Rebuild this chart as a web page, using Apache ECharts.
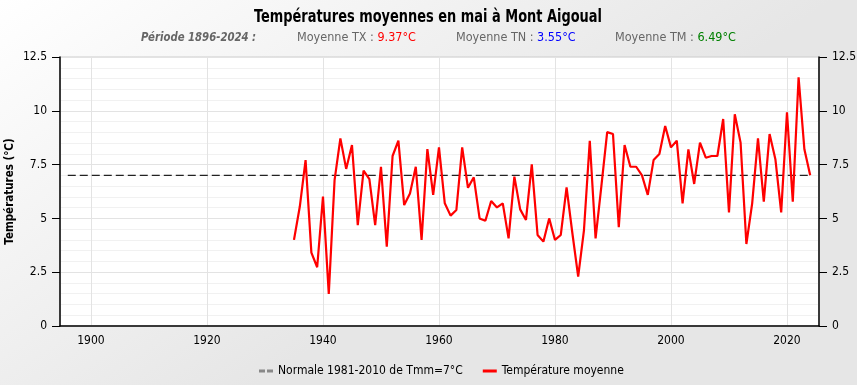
<!DOCTYPE html>
<html>
<head>
<meta charset="utf-8">
<script src="https://cdn.jsdelivr.net/npm/echarts@6/dist/echarts.min.js"></script>
<style>
html,body{margin:0;padding:0;}
#chart{width:857px;height:385px;}
</style>
</head>
<body>
<div id="chart"></div>
<script>
const years = [];
for (let y = 1935; y <= 2024; y++) years.push(y);
const tempMoyenne = [
  4.00, 5.54, 7.71, 3.41, 2.73, 6.01, 1.49, 6.78, 8.72, 7.30,
  8.41, 4.69, 7.22, 6.82, 4.69, 7.40, 3.69, 7.90, 8.61, 5.62,
  6.16, 7.40, 4.00, 8.22, 6.09, 8.30, 5.70, 5.13, 5.39, 8.30,
  6.42, 6.91, 5.00, 4.89, 5.81, 5.51, 5.70, 4.07, 6.94, 5.42,
  4.93, 7.51, 4.23, 3.92, 5.00, 4.00, 4.23, 6.44, 4.31, 2.29,
  4.46, 8.61, 4.07, 6.50, 9.01, 8.92, 4.59, 8.41, 7.40, 7.40,
  7.00, 6.09, 7.71, 7.99, 9.29, 8.30, 8.61, 5.70, 8.21, 6.60,
  8.52, 7.82, 7.90, 7.90, 9.62, 5.28, 9.84, 8.52, 3.81, 5.70,
  8.72, 5.78, 8.92, 7.75, 5.28, 9.93, 5.78, 11.56, 8.21, 7.00
];
const normaleYears = [1896, 2024];
const normaleValue = 7;
const yTicks = ['0', '2.5', '5', '7.5', '10', '12.5'];
const xTickYears = [1900, 1920, 1940, 1960, 1980, 2000, 2020];

const FONT = "'DejaVu Sans Condensed', 'Liberation Sans Narrow', 'Noto Sans', sans-serif";

const chart = echarts.init(document.getElementById('chart'), null, {renderer: 'canvas'});

const seriesTemp = years.map((y, i) => [y, tempMoyenne[i]]);
const seriesNorm = normaleYears.map(y => [y, normaleValue]);

const yAxisCommon = {
  type: 'value', min: 0, max: 12.5, interval: 2.5,
  axisLine: {show: true, lineStyle: {color: '#000', width: 1.5}},
  axisTick: {show: true, inside: false, length: 8, lineStyle: {color: '#000', width: 1}},
  axisLabel: {color: '#000', fontFamily: FONT, fontSize: 12, margin: 13},
  minorTick: {show: false, splitNumber: 5}
};

function sub(x, label, value, color) {
  return {
    type: 'text', x: x, y: 38,
    style: {
      text: '{a|' + label + '}{b|' + value + '}',
      verticalAlign: 'middle', align: 'left',
      rich: {
        a: {fontFamily: FONT, fontSize: 12.5, fill: '#666666'},
        b: {fontFamily: FONT, fontSize: 12.5, fill: color}
      }
    }
  };
}

const option = {
  animation: false,
  backgroundColor: {
    type: 'linear', x: 0, y: 0, x2: 0.3, y2: 1,
    colorStops: [{offset: 0, color: '#ffffff'}, {offset: 1, color: '#e6e6e6'}]
  },
  graphic: [
    {type: 'text', x: 428, y: 17, scaleX: 0.8,
     style: {text: 'Températures moyennes en mai à Mont Aigoual', align: 'center', verticalAlign: 'middle',
             fontFamily: FONT, fontSize: 18, fontWeight: 'bold', fill: '#000'}},
    {type: 'text', x: 141, y: 38, scaleX: 0.9,
     style: {text: 'Période 1896-2024 :', align: 'left', verticalAlign: 'middle',
             fontFamily: FONT, fontSize: 12.5, fontStyle: 'italic', fontWeight: 'bold', fill: '#666666'}},
    sub(297, 'Moyenne TX : ', '9.37°C', '#ff0000'),
    sub(456, 'Moyenne TN : ', '3.55°C', '#0000ff'),
    sub(615, 'Moyenne TM : ', '6.49°C', '#008000')
  ],
  grid: {
    left: 60, right: 38, top: 57, bottom: 59,
    outerBoundsMode: 'none', containLabel: false,
    show: true, backgroundColor: '#ffffff', borderColor: '#cccccc', borderWidth: 1
  },
  legend: {
    bottom: 3, left: 254,
    itemWidth: 14, itemHeight: 3, itemGap: 20,
    textStyle: {fontFamily: FONT, fontSize: 12, color: '#000'},
    data: [
      {name: 'Normale 1981-2010 de Tmm=7°C', icon: 'path://M0,0h6v3h-6z M8,0h6v3h-6z', itemStyle: {color: '#888888'}},
      {name: 'Température moyenne', icon: 'rect', itemStyle: {color: '#ff0000'}}
    ]
  },
  xAxis: {
    type: 'value', min: 1894.66, max: 2025.52, splitNumber: 6, minInterval: 20, maxInterval: 20,
    axisLine: {show: true, onZero: false, lineStyle: {color: '#000', width: 1.5}},
    axisTick: {show: false},
    axisLabel: {
      color: '#000', fontFamily: FONT, fontSize: 12, margin: 9,
      showMinLabel: false, showMaxLabel: false,
      formatter: v => (xTickYears.indexOf(Math.round(v)) >= 0 && Math.abs(v - Math.round(v)) < 1e-6) ? String(Math.round(v)) : ''
    },
    splitLine: {show: true, lineStyle: {color: '#e3e3e3', width: 1}}
  },
  yAxis: [
    Object.assign({}, yAxisCommon, {
      position: 'left',
      name: 'Températures (°C)', nameLocation: 'middle', nameGap: 44, nameRotate: 90,
      nameMoveOverlap: false,
      nameTextStyle: {fontFamily: FONT, fontSize: 11.5, fontWeight: 'bold', color: '#000'},
      axisLabel: Object.assign({}, yAxisCommon.axisLabel, {formatter: (v) => yTicks[Math.round(v / 2.5)]}),
      splitLine: {show: true, lineStyle: {color: '#e3e3e3', width: 1}},
      minorSplitLine: {show: true, lineStyle: {color: '#f1f1f1', width: 1}}
    }),
    Object.assign({}, yAxisCommon, {
      position: 'right',
      axisLabel: Object.assign({}, yAxisCommon.axisLabel, {formatter: (v) => yTicks[Math.round(v / 2.5)]}),
      splitLine: {show: false}
    })
  ],
  series: [
    {
      name: 'Normale 1981-2010 de Tmm=7°C', type: 'line', data: seriesNorm,
      showSymbol: false, symbol: 'none', silent: true,
      lineStyle: {color: '#222', width: 1.3, type: [8, 4]},
      itemStyle: {color: '#888888'}, z: 2
    },
    {
      name: 'Température moyenne', type: 'line', data: seriesTemp,
      showSymbol: false, symbol: 'none',
      lineStyle: {color: '#ff0000', width: 2.2},
      itemStyle: {color: '#ff0000'}, z: 3
    }
  ]
};
chart.setOption(option);
</script>
</body>
</html>
